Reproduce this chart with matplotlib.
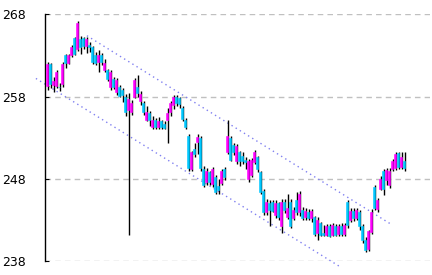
import matplotlib
matplotlib.use("Agg")
import matplotlib.pyplot as plt
import numpy as np

# ---- data ----
opens = [259.3, 262.0, 259.4, 259.3, 259.2, 259.5, 263.0, 262.1, 263.1, 265.1,
         263.8, 265.0, 265.1, 264.1, 264.3, 264.0, 263.0, 262.2, 263.0, 261.2,
         261.2, 259.2, 260.1, 258.5, 259.2, 258.8, 258.0, 256.4, 256.1, 258.0,
         259.2, 257.4, 257.2, 255.2, 256.0, 254.3, 255.2, 254.3, 255.0, 254.6,
         255.1, 256.1, 257.0, 258.0, 257.8, 256.6, 255.2, 253.2, 249.2, 251.6,
         252.5, 253.0, 249.2, 247.6, 248.8, 247.4, 248.2, 247.1, 247.5, 249.2,
         251.2, 253.0, 252.1, 250.2, 251.2, 250.8, 250.3, 248.0, 248.4, 250.0,
         250.6, 248.8, 246.5, 244.0, 245.0, 245.2, 243.6, 245.0, 242.2, 245.2,
         243.3, 245.2, 243.2, 245.4, 244.0, 244.2, 243.3, 244.0, 243.2, 243.3,
         241.4, 242.6, 241.4, 241.2, 242.3, 241.2, 242.2, 241.3, 242.3, 241.3,
         245.2, 243.0, 244.1, 243.2, 244.0, 242.3, 240.6, 239.4, 241.5, 247.0,
         244.3, 246.8, 249.0, 247.8, 247.2, 249.2, 249.3, 251.1, 249.4, 250.2]
closes = [262.0, 259.5, 259.9, 261.0, 259.1, 262.0, 262.1, 263.0, 264.0, 263.2,
          267.0, 264.0, 264.1, 265.0, 264.0, 262.2, 262.1, 263.0, 262.2, 262.1,
          260.1, 261.0, 259.1, 260.0, 258.1, 258.2, 256.1, 257.7, 257.2, 260.0,
          258.4, 258.3, 256.1, 256.1, 255.2, 255.2, 254.3, 255.0, 254.3, 254.2,
          256.0, 257.2, 258.0, 257.2, 257.1, 255.3, 254.3, 249.3, 251.2, 251.0,
          253.1, 249.3, 247.2, 249.0, 247.6, 249.2, 246.4, 246.6, 249.0, 248.2,
          253.2, 250.3, 251.2, 252.0, 250.2, 250.2, 250.0, 250.2, 250.3, 251.3,
          249.2, 246.4, 244.0, 245.2, 244.2, 244.1, 245.0, 243.3, 245.2, 244.2,
          244.5, 242.2, 244.2, 244.0, 246.1, 243.2, 244.1, 243.2, 244.1, 241.3,
          243.0, 241.2, 241.2, 242.3, 241.1, 242.4, 241.2, 242.2, 241.3, 242.4,
          242.4, 244.1, 243.2, 244.2, 242.2, 240.5, 239.3, 241.6, 244.0, 244.5,
          245.4, 248.0, 246.8, 249.1, 249.0, 250.1, 251.0, 249.4, 250.6, 249.3]
highs = [262.2, 262.1, 260.4, 261.2, 259.6, 262.2, 263.2, 263.2, 264.3, 265.3,
         267.2, 265.4, 265.3, 265.2, 264.6, 264.2, 263.4, 263.6, 263.3, 262.6,
         261.4, 261.2, 260.4, 260.2, 259.4, 259.0, 258.3, 258.4, 257.6, 260.3,
         260.6, 258.7, 257.5, 256.8, 256.3, 255.6, 255.4, 255.5, 255.2, 255.0,
         256.6, 257.4, 258.2, 258.2, 258.0, 256.8, 255.4, 253.4, 251.4, 252.3,
         253.5, 253.2, 249.5, 249.3, 249.0, 249.4, 248.4, 248.0, 249.2, 249.4,
         255.2, 253.2, 252.4, 252.2, 251.4, 251.2, 250.6, 250.4, 250.5, 251.5,
         250.8, 249.0, 246.7, 245.5, 245.4, 245.4, 245.4, 245.2, 245.6, 245.6,
         246.2, 245.6, 244.6, 246.4, 246.5, 244.6, 244.4, 244.3, 244.3, 243.5,
         243.3, 242.8, 242.4, 242.5, 242.5, 242.6, 242.5, 242.5, 242.6, 242.6,
         245.4, 244.4, 244.4, 244.5, 244.2, 242.5, 240.9, 241.8, 244.3, 247.2,
         245.7, 248.3, 249.2, 249.3, 249.3, 250.4, 251.2, 251.3, 251.2, 251.3]
lows = [258.8, 259.0, 258.6, 259.0, 258.7, 259.2, 261.5, 261.9, 262.8, 263.0,
        263.5, 263.2, 263.8, 263.3, 263.4, 262.0, 261.8, 261.0, 261.8, 261.0,
        259.9, 258.8, 258.9, 258.2, 257.9, 257.3, 255.6, 241.2, 255.8, 257.8,
        257.9, 257.0, 255.8, 255.0, 254.4, 254.1, 254.0, 254.0, 254.0, 254.0,
        252.3, 255.6, 256.5, 256.9, 256.6, 255.0, 254.0, 249.0, 249.0, 250.6,
        251.0, 249.0, 247.0, 247.2, 247.2, 247.0, 246.1, 246.2, 247.3, 247.8,
        251.0, 250.1, 250.9, 249.8, 249.6, 249.8, 249.2, 247.6, 248.2, 249.8,
        248.8, 246.2, 243.6, 243.6, 242.3, 243.9, 243.2, 243.0, 241.4, 243.8,
        243.1, 242.0, 243.0, 243.6, 243.5, 243.0, 243.0, 243.0, 242.8, 241.0,
        240.6, 241.0, 241.0, 241.0, 240.9, 241.0, 241.0, 241.1, 241.1, 241.1,
        242.0, 242.8, 242.9, 243.0, 241.8, 240.2, 239.1, 239.2, 241.3, 244.2,
        243.9, 246.6, 246.0, 247.2, 246.9, 249.0, 249.1, 249.2, 249.2, 249.0]

# channel lines: (candle index, price) end points
upper_x = [13.3, 115.0]
upper_y = [265.4, 242.4]
lower_x = [-3.7, 97.7]
lower_y = [260.2, 237.3]

yticks = [238, 248, 258, 268]

# ---- figure ----
W, H = 432, 275
fig = plt.figure(figsize=(W / 100, H / 100), dpi=100)
ax_left = 45 / W
ax_bottom = 14 / H
ax_top = 1 - 14.3 / H
ax = fig.add_axes([ax_left, ax_bottom, 0.995 - ax_left, ax_top - ax_bottom])

n = len(closes)
idx = np.arange(n)
o = np.array(opens)
c = np.array(closes)
h = np.array(highs)
l = np.array(lows)

up = c >= o
col_up = "#ff00ff"
col_dn = "#00c8ff"
colors = np.where(up, col_up, col_dn)

ax.vlines(idx + 0.3, l, h, color="black", linewidth=1.0, zorder=2)
bottoms = np.minimum(o, c)
heights = np.maximum(np.abs(c - o), 0.12)
ax.bar(idx, heights, bottom=bottoms, width=0.62, color=colors,
       edgecolor=colors, linewidth=0.4, zorder=3)

line_col = "#8080f0"
ax.plot(upper_x, upper_y, color=line_col, linestyle=(0, (1, 2.5)),
        linewidth=1.0, clip_on=False, zorder=1)
ax.plot(lower_x, lower_y, color=line_col, linestyle=(0, (1, 2.5)),
        linewidth=1.0, clip_on=False, zorder=1)

# pixel x = 47 + 3*i  ->  xlim
px_per = 3.0
x0 = (45 - 47) / px_per
x1 = (W * 0.995 - 47) / px_per
ax.set_xlim(x0, x1)
ax.set_ylim(238, 268)

ax.set_yticks(yticks)
ax.set_yticklabels([str(t) for t in yticks],
                   family=["Liberation Sans Narrow", "DejaVu Sans"], fontsize=9)
ax.set_xticks([])
ax.tick_params(axis="y", direction="in", length=3, pad=14, colors="black")
ax.yaxis.grid(True, color="#c0c0c0", linestyle=(0, (4, 3)), linewidth=1.0)
ax.set_axisbelow(True)
for s in ["top", "right", "bottom"]:
    ax.spines[s].set_visible(False)
ax.spines["left"].set_color("black")
ax.spines["left"].set_linewidth(1.0)
ax.patch.set_alpha(0)

fig.savefig("out.png", dpi=100)
